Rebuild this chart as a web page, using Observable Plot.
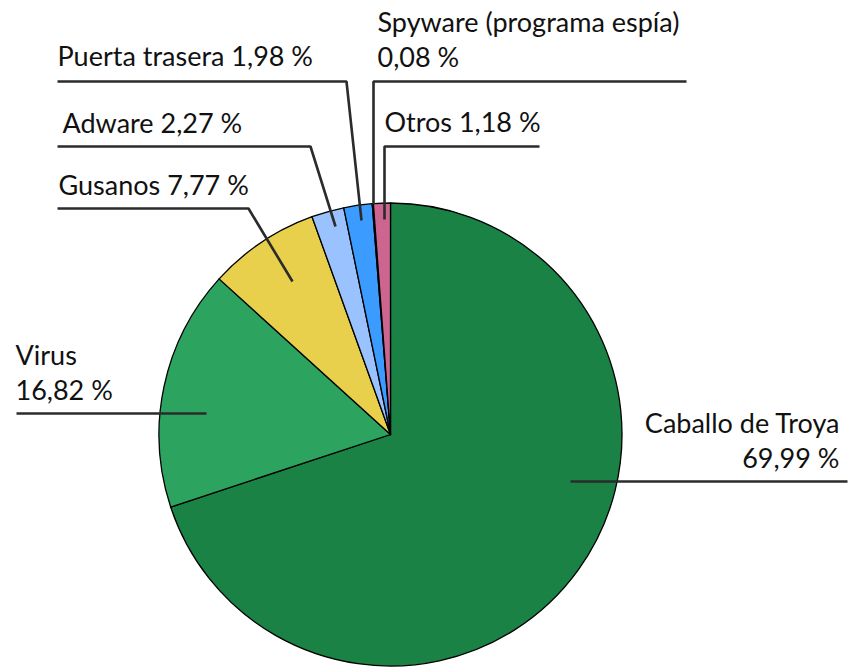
<!DOCTYPE html>
<html>
<head>
<meta charset="utf-8">
<script src="https://cdn.jsdelivr.net/npm/d3@7"></script>
<script src="https://cdn.jsdelivr.net/npm/@observablehq/plot@0.6"></script>
<style>
  html, body { margin: 0; padding: 0; background: #fff; }
  #chart { width: 849px; height: 668px; }
</style>
</head>
<body>
<div id="chart"></div>
<script>
// ---- data ----
const categories = ["Caballo de Troya", "Virus", "Gusanos", "Adware", "Puerta trasera", "Spyware (programa espía)", "Otros"];
const values = [69.99, 16.82, 7.77, 2.27, 1.98, 0.08, 1.18];
const valueLabels = ["69,99 %", "16,82 %", "7,77 %", "2,27 %", "1,98 %", "0,08 %", "1,18 %"];
const colors = ["#1a8245", "#2ca35f", "#e8cf4c", "#99c2ff", "#3b9bff", "#000000", "#cc6690"];

// ---- layout (pixel space) ----
const W = 849, H = 668;
const pie = {cx: 390.5, cy: 434.5, r: 231.5};
// label text: anchor x, baseline of last line, text-anchor, multiline?
const labelLayout = [
  {x: 839, y: 467, anchor: "end", split: true},
  {x: 15, y: 399, anchor: "start", split: true},
  {x: 58, y: 194, anchor: "start", split: false},
  {x: 62, y: 132, anchor: "start", split: false},
  {x: 57, y: 65, anchor: "start", split: false},
  {x: 377, y: 66, anchor: "start", split: true},
  {x: 384, y: 131, anchor: "start", split: false}
];
// leader line polylines
const leaderLayout = [
  [[570, 481], [847, 481]],
  [[206, 413], [16, 413]],
  [[292, 281], [248, 208], [57, 208]],
  [[335, 226], [310, 146], [57, 146]],
  [[361, 220], [346, 81], [57, 81]],
  [[373, 204], [373, 81], [686, 81]],
  [[384, 219], [384, 146], [539, 146]]
];

const slices = categories.map((c, i) => ({category: c, value: values[i], label: valueLabels[i]}));
const labels = slices.map((d, i) => ({
  ...d,
  x: labelLayout[i].x,
  y: labelLayout[i].y,
  anchor: labelLayout[i].anchor,
  text: d.category + (labelLayout[i].split ? "\n" : " ") + d.label
}));
const leaders = slices.flatMap((d, i) => leaderLayout[i].map(([x, y], k) => ({category: d.category, x, y, k})));

const arcs = d3.pie().sort(null).value(d => d.value).startAngle(0).endAngle(2 * Math.PI)(slices);

function pieMark(index, scales, values, dimensions, context) {
  const cx = scales.x(pie.cx), cy = scales.y(pie.cy);
  const r = scales.x(pie.cx + pie.r) - cx;
  const arc = d3.arc().innerRadius(0).outerRadius(r);
  const g = d3.create("svg:g").attr("transform", `translate(${cx},${cy})`);
  g.selectAll("path")
    .data(arcs)
    .join("path")
    .attr("d", arc)
    .attr("fill", d => scales.color(d.data.category))
    .attr("stroke", "#000")
    .attr("stroke-width", 1.3)
    .attr("stroke-linejoin", "round");
  return g.node();
}

const textOpts = {x: "x", y: "y", text: "text", lineAnchor: "bottom", lineHeight: 1.28, fontSize: 27, fill: "#111"};

const chart = Plot.plot({
  width: W,
  height: H,
  margin: 0,
  x: {domain: [0, W], range: [0, W], axis: null},
  y: {domain: [0, H], range: [0, H], axis: null},
  color: {domain: categories, range: colors},
  style: {fontFamily: "Lato, 'Open Sans', sans-serif", background: "#fff"},
  marks: [
    Plot.dot(slices, {x: () => pie.cx, y: () => pie.cy, fill: "category", r: 0}),
    pieMark,
    Plot.line(leaders, {x: "x", y: "y", z: "category", stroke: "#2b2b2b", strokeWidth: 2.6, strokeLinejoin: "miter", strokeLinecap: "butt", curve: "linear"}),
    Plot.text(labels.filter(d => d.anchor === "start"), {...textOpts, textAnchor: "start"}),
    Plot.text(labels.filter(d => d.anchor === "end"), {...textOpts, textAnchor: "end"})
  ]
});
document.getElementById("chart").appendChild(chart);
</script>
</body>
</html>
